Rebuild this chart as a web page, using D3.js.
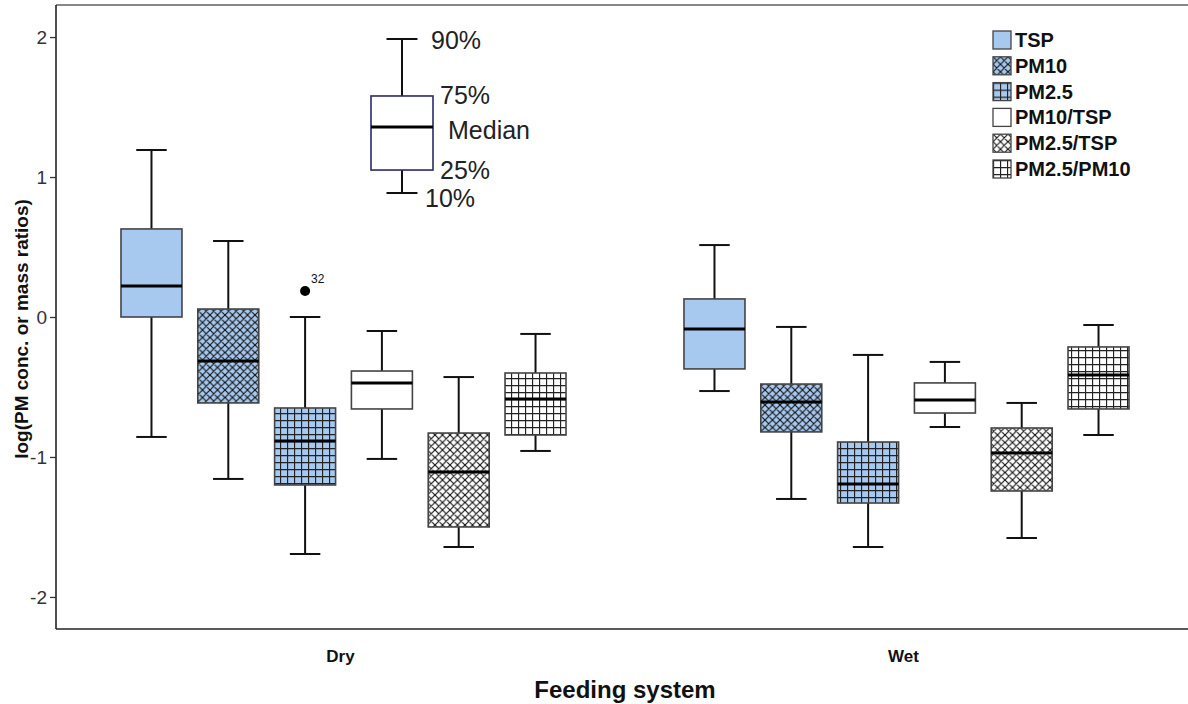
<!DOCTYPE html>
<html>
<head>
<meta charset="utf-8">
<script src="https://cdn.jsdelivr.net/npm/d3@7"></script>
<style>
  html, body { margin: 0; padding: 0; background: #fff; }
  svg { display: block; font-family: "Liberation Sans", Arial, sans-serif; }
</style>
</head>
<body>
<svg id="chart" width="1188" height="704"></svg>
<script>
// Feeding-system groups and PM series
const groups = ["Dry", "Wet"];
const series = ["TSP", "PM10", "PM2.5", "PM10/TSP", "PM2.5/TSP", "PM2.5/PM10"];

// Percentiles per series, one array per group: [p10, p25, median, p75, p90]
const dryStats = [
  [-0.857, 0.000, 0.221, 0.629, 1.193],
  [-1.157, -0.614, -0.314, 0.057, 0.543],
  [-1.693, -1.200, -0.886, -0.650, 0.000],
  [-1.014, -0.657, -0.471, -0.386, -0.100],
  [-1.643, -1.500, -1.107, -0.829, -0.429],
  [-0.957, -0.843, -0.586, -0.400, -0.121]
];
const wetStats = [
  [-0.529, -0.371, -0.086, 0.129, 0.514],
  [-1.300, -0.821, -0.607, -0.479, -0.071],
  [-1.643, -1.329, -1.193, -0.893, -0.271],
  [-0.786, -0.686, -0.593, -0.471, -0.321],
  [-1.579, -1.243, -0.971, -0.793, -0.614],
  [-0.843, -0.657, -0.414, -0.214, -0.057]
];

// Outliers: [group, series, value, case label]
const outliers = [["Dry", "PM2.5", 0.186, "32"]];

// Key box illustrating the percentiles: [p10, p25, median, p75, p90]
const keyStats = [0.886, 1.050, 1.357, 1.579, 1.986];
const keyLabels = ["10%", "25%", "Median", "75%", "90%"];

const yTicks = [-2, -1, 0, 1, 2];

// Fill style per series
const blue = "#a7c9ef";
const styles = [
  { base: blue, pattern: null },
  { base: blue, pattern: "diag" },
  { base: blue, pattern: "grid" },
  { base: "#ffffff", pattern: null },
  { base: "#ffffff", pattern: "diag" },
  { base: "#ffffff", pattern: "grid" }
];

const svg = d3.select("#chart");
const frame = { left: 56, top: 5, right: 1190, bottom: 629 };

const y = d3.scaleLinear().domain([-2.229, 2.229]).range([frame.bottom, frame.top]);
const xGroup = d3.scaleBand().domain(groups).range([62, 1188]);
const xSeries = d3.scaleBand().domain(series).range([0, xGroup.bandwidth()])
  .paddingInner(0.206).paddingOuter(0.768);

// Hatch patterns
const defs = svg.append("defs");
function makePattern(id, base, kind) {
  const s = kind === "diag" ? 7.5 : 7;
  const p = defs.append("pattern").attr("id", id)
    .attr("patternUnits", "userSpaceOnUse").attr("width", s).attr("height", s);
  p.append("rect").attr("width", s).attr("height", s).attr("fill", base);
  if (kind === "diag") {
    p.append("path")
      .attr("d", `M0,0L${s},${s}M${s},0L0,${s}M-1,1L1,-1M${s-1},${s+1}L${s+1},${s-1}M-1,${s-1}L1,${s+1}M${s-1},-1L${s+1},1`)
      .attr("stroke", "#111").attr("stroke-width", 1.15);
  } else {
    p.append("path").attr("d", `M0.5,0V${s}M0,0.5H${s}`)
      .attr("stroke", "#222").attr("stroke-width", 1.3);
  }
}
styles.forEach((st, i) => {
  st.fill = st.base;
  if (st.pattern) {
    const id = "pat" + i;
    makePattern(id, st.base, st.pattern);
    st.fill = `url(#${id})`;
  }
});

// Frame
svg.append("line").attr("x1", frame.left).attr("x2", frame.right)
  .attr("y1", frame.top).attr("y2", frame.top)
  .attr("stroke", "#888").attr("stroke-width", 2);
svg.append("line").attr("x1", frame.left).attr("x2", frame.right)
  .attr("y1", frame.bottom).attr("y2", frame.bottom)
  .attr("stroke", "#222").attr("stroke-width", 1.6);

// Y axis
const yAxis = svg.append("g").attr("transform", `translate(${frame.left},0)`)
  .call(d3.axisLeft(y).tickValues(yTicks).tickSize(6).tickPadding(3).tickFormat(d => String(d)));
yAxis.select(".domain").attr("stroke", "#222").attr("stroke-width", 1.6)
  .attr("d", `M0,${frame.top}V${frame.bottom}`);
yAxis.selectAll(".tick line").attr("stroke", "#333").attr("stroke-width", 1.3);
yAxis.selectAll(".tick text").attr("font-size", 19).attr("fill", "#333")
  .attr("font-family", "'Liberation Sans', Arial, sans-serif");

svg.append("text").attr("transform", `translate(28,329) rotate(-90)`)
  .attr("text-anchor", "middle").attr("font-size", 19).attr("font-weight", "bold")
  .attr("fill", "#111").text("log(PM conc. or mass ratios)");

// X category labels and title
svg.selectAll("text.xcat").data(groups).enter().append("text")
  .attr("class", "xcat")
  .attr("x", d => xGroup(d) + xGroup.bandwidth() / 2 - 3)
  .attr("y", 662).attr("text-anchor", "middle")
  .attr("font-size", 17).attr("font-weight", "bold").attr("fill", "#111").text(d => d);
svg.append("text").attr("x", 625).attr("y", 698).attr("text-anchor", "middle")
  .attr("font-size", 24).attr("font-weight", "bold").attr("fill", "#111").text("Feeding system");

// Box plot drawing
function drawBox(g, cx, w, st, fill, boxStroke) {
  const [p10, p25, med, p75, p90] = st;
  const cap = w * 0.5;
  g.append("line").attr("x1", cx).attr("x2", cx).attr("y1", y(p90)).attr("y2", y(p75))
    .attr("stroke", "#111").attr("stroke-width", 2);
  g.append("line").attr("x1", cx).attr("x2", cx).attr("y1", y(p25)).attr("y2", y(p10))
    .attr("stroke", "#111").attr("stroke-width", 2);
  g.append("line").attr("x1", cx - cap / 2).attr("x2", cx + cap / 2).attr("y1", y(p90)).attr("y2", y(p90))
    .attr("stroke", "#111").attr("stroke-width", 2);
  g.append("line").attr("x1", cx - cap / 2).attr("x2", cx + cap / 2).attr("y1", y(p10)).attr("y2", y(p10))
    .attr("stroke", "#111").attr("stroke-width", 2);
  g.append("rect").attr("x", cx - w / 2).attr("y", y(p75)).attr("width", w).attr("height", y(p25) - y(p75))
    .attr("fill", fill).attr("stroke", boxStroke).attr("stroke-width", 1.6);
  g.append("line").attr("x1", cx - w / 2).attr("x2", cx + w / 2).attr("y1", y(med)).attr("y2", y(med))
    .attr("stroke", "#000").attr("stroke-width", 3);
}

const plot = svg.append("g");
[dryStats, wetStats].forEach((stats, gi) => {
  const gx = xGroup(groups[gi]);
  stats.forEach((st, si) => {
    const cx = gx + xSeries(series[si]) + xSeries.bandwidth() / 2;
    drawBox(plot.append("g"), cx, xSeries.bandwidth(), st, styles[si].fill, "#444");
  });
});

// Outliers
outliers.forEach(([grp, ser, v, lab]) => {
  const cx = xGroup(grp) + xSeries(ser) + xSeries.bandwidth() / 2;
  plot.append("circle").attr("cx", cx).attr("cy", y(v)).attr("r", 5).attr("fill", "#000");
  plot.append("text").attr("x", cx + 6).attr("y", y(v) - 8).attr("font-size", 12)
    .attr("fill", "#111").text(lab);
});

// Percentile key
const keyG = svg.append("g");
const keyX = 402;
drawBox(keyG, keyX, 62, keyStats, "#fff", "#2a2a6e");
const keyPos = [
  { dx: 23, dy: 5 },
  { dx: 38, dy: 0 },
  { dx: 46, dy: 3 },
  { dx: 38, dy: -1 },
  { dx: 29, dy: 1 }
];
keyLabels.forEach((lab, i) => {
  keyG.append("text").attr("x", keyX + keyPos[i].dx).attr("y", y(keyStats[i]) + keyPos[i].dy)
    .attr("dy", "0.35em").attr("font-size", 25).attr("fill", "#222").text(lab);
});

// Legend
const legend = svg.append("g").attr("transform", "translate(993,31)");
series.forEach((s, i) => {
  const row = legend.append("g").attr("transform", `translate(0,${i * 25.8})`);
  row.append("rect").attr("width", 18).attr("height", 18)
    .attr("fill", styles[i].fill).attr("stroke", "#444").attr("stroke-width", 1.3);
  row.append("text").attr("x", 22).attr("y", 9).attr("dy", "0.35em")
    .attr("font-size", 20).attr("font-weight", "bold").attr("fill", "#111").text(s);
});
</script>
</body>
</html>
